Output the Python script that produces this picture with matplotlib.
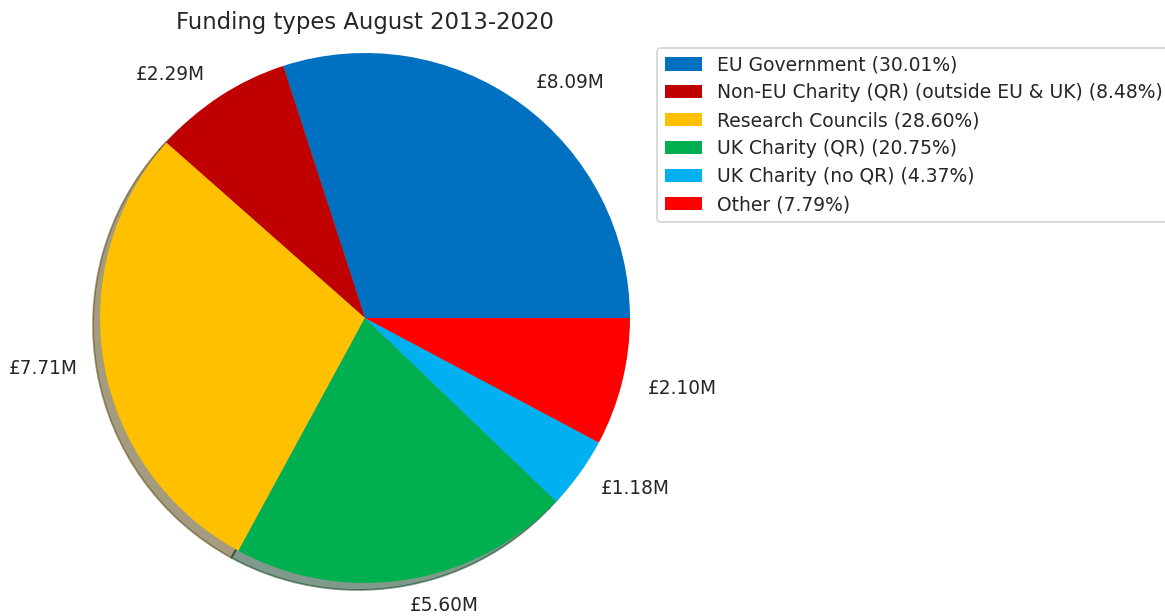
import matplotlib
matplotlib.use("Agg")
import matplotlib.pyplot as plt

# Funding amounts in £M by type
categories = [
    "EU Government",
    "Non-EU Charity (QR) (outside EU & UK)",
    "Research Councils",
    "UK Charity (QR)",
    "UK Charity (no QR)",
    "Other",
]
amounts = [8.09, 2.29, 7.71, 5.60, 1.18, 2.10]
shares = [30.01, 8.48, 28.60, 20.75, 4.37, 7.79]
colors = ["#0070C0", "#C00000", "#FFC000", "#00B050", "#00B0F0", "#FF0000"]

plt.rcParams["text.color"] = "#262626"

DPI = 127
fig = plt.figure(figsize=(1165 / DPI, 616 / DPI), dpi=DPI)
ax = fig.add_axes([0.0631, 0.0106, 0.5004, 0.9464])

wedges, texts = ax.pie(
    amounts,
    labels=[f"£{a:.2f}M" for a in amounts],
    colors=colors,
    startangle=0,
    shadow={"ox": -0.015, "oy": -0.015},
    labeldistance=1.1,
    textprops={"color": "#262626", "fontsize": 10.5},
)
ax.set_xlim(-1.1, 1.1)
ax.set_ylim(-1.1, 1.1)
ax.set_aspect("equal")
ax.set_title("Funding types August 2013-2020", y=0.9965, pad=0, fontsize=12.9,
             color="#262626")

ax.legend(
    wedges,
    [f"{c} ({s:.2f}%)" for c, s in zip(categories, shares)],
    loc="upper left",
    bbox_to_anchor=(657 / 1165, 1 - 48 / 616),
    bbox_transform=fig.transFigure,
    borderaxespad=0,
    fontsize=10.65,
    labelspacing=0.475,
)

fig.savefig("out.png", dpi=DPI)
